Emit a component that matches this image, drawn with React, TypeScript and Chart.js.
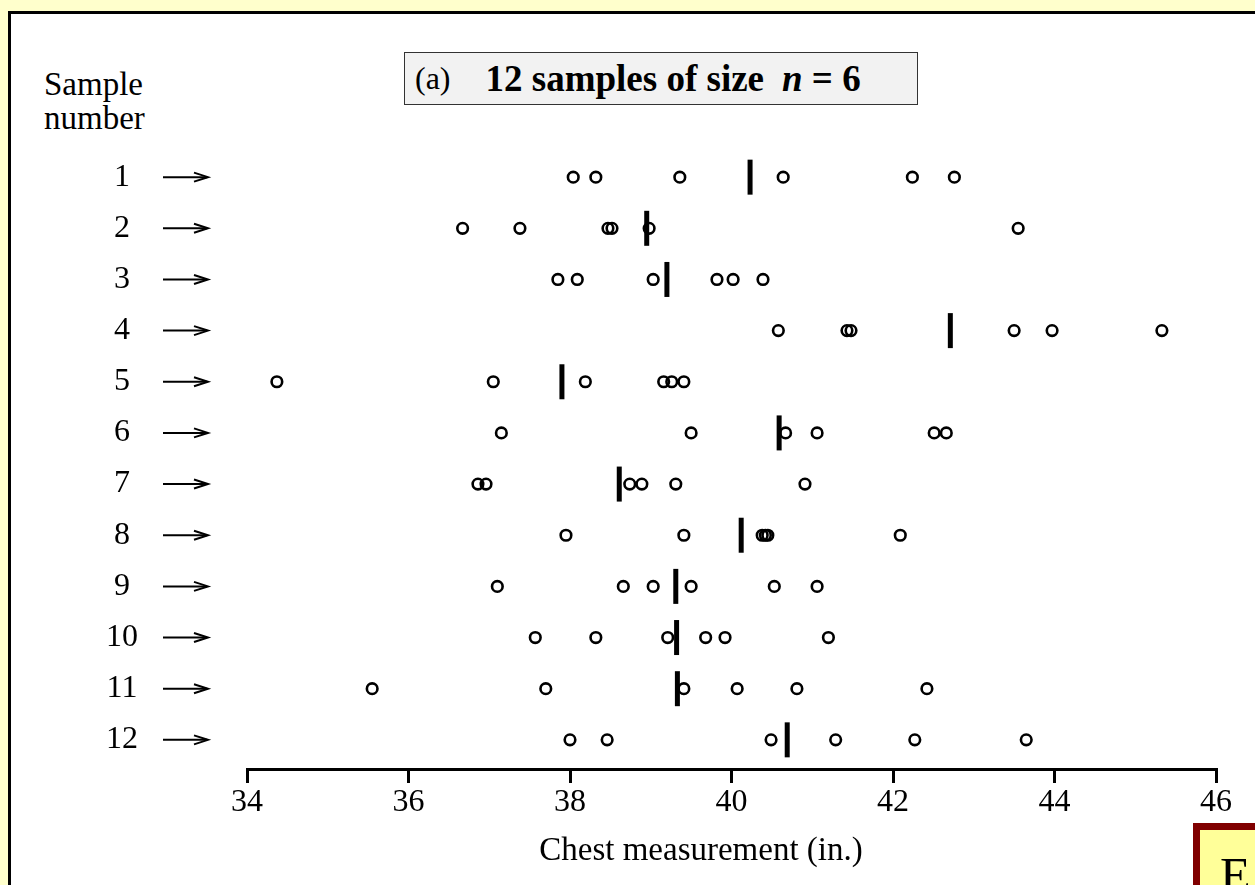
import React, { useEffect, useRef } from "react";
import { Chart, registerables } from "chart.js";

Chart.register(...registerables);

// ---------- data ----------
const sampleNumbers = [1, 2, 3, 4, 5, 6, 7, 8, 9, 10, 11, 12];

const sample01 = [38.04, 38.32, 39.36, 40.64, 42.24, 42.76];
const sample02 = [36.67, 37.38, 38.47, 38.52, 38.98, 43.55];
const sample03 = [37.85, 38.09, 39.03, 39.82, 40.02, 40.39];
const sample04 = [40.58, 41.43, 41.48, 43.5, 43.97, 45.33];
const sample05 = [34.37, 37.05, 38.19, 39.16, 39.26, 39.41];
const sample06 = [37.15, 39.5, 40.67, 41.06, 42.51, 42.66];
const sample07 = [36.86, 36.96, 38.74, 38.89, 39.31, 40.91];
const sample08 = [37.95, 39.41, 40.38, 40.42, 40.45, 42.09];
const sample09 = [37.1, 38.66, 39.03, 39.5, 40.53, 41.06];
const sample10 = [37.57, 38.32, 39.21, 39.68, 39.92, 41.2];
const sample11 = [35.55, 37.7, 39.41, 40.07, 40.81, 42.42];
const sample12 = [38.0, 38.46, 40.49, 41.29, 42.27, 43.65];

const samples = [
  sample01, sample02, sample03, sample04, sample05, sample06,
  sample07, sample08, sample09, sample10, sample11, sample12,
];

const sampleMeans = [40.23, 38.95, 39.2, 42.71, 37.9, 40.59, 38.61, 40.12, 39.31, 39.32, 39.33, 40.69];

const xTickValues = [34, 36, 38, 40, 42, 44, 46];
const xMin = 34;
const xMax = 46;

const titlePrefix = "(a)";
const titleMain = "12 samples of size";
const titleVar = "n";
const titleTail = " = 6";
const yAxisTitle = ["Sample", "number"];
const xAxisTitle = "Chest measurement (in.)";

const SERIF = '"Liberation Serif", "Times New Roman", Times, serif';

const arrowPlugin = {
  id: "rowArrows",
  afterDraw(chart: any) {
    const ys = chart.scales.y;
    const ctx = chart.ctx;
    ctx.save();
    ctx.strokeStyle = "#000";
    ctx.lineWidth = 2;
    ctx.lineCap = "butt";
    sampleNumbers.forEach((n) => {
      const py = ys.getPixelForValue(n);
      ctx.beginPath();
      ctx.moveTo(163, py);
      ctx.lineTo(207, py);
      ctx.stroke();
      ctx.beginPath();
      ctx.moveTo(194, py - 4.5);
      ctx.lineTo(208, py);
      ctx.lineTo(194, py + 4.5);
      ctx.stroke();
    });
    ctx.restore();
  },
};

export default function App() {
  const canvasRef = useRef<HTMLCanvasElement | null>(null);

  useEffect(() => {
    if (!canvasRef.current) return;
    const chart = new Chart(canvasRef.current, {
      type: "scatter",
      data: {
        datasets: [
          {
            label: "Sample mean",
            data: sampleNumbers.map((n, i) => ({ x: sampleMeans[i], y: n })),
            pointStyle: "line",
            pointRotation: 90,
            pointRadius: 17.5,
            pointHoverRadius: 17.5,
            pointBorderWidth: 5,
            pointBorderColor: "#000",
            pointBackgroundColor: "#000",
            borderColor: "#000",
          } as any,
          {
            label: "Chest measurement",
            data: samples.flatMap((s, i) => s.map((v) => ({ x: v, y: sampleNumbers[i] }))),
            pointStyle: "circle",
            pointRadius: 5.3,
            pointHoverRadius: 5.3,
            pointBorderWidth: 2.6,
            pointBorderColor: "#000",
            pointBackgroundColor: "rgba(0,0,0,0)",
            borderColor: "#000",
          } as any,
        ],
      },
      options: {
        responsive: false,
        animation: false,
        devicePixelRatio: 1,
        events: [],
        layout: { padding: { top: 126, right: 39, bottom: 0, left: 0 } },
        plugins: { legend: { display: false }, tooltip: { enabled: false }, title: { display: false } },
        scales: {
          x: {
            type: "linear",
            position: "bottom",
            min: xMin,
            max: xMax,
            afterBuildTicks: (s: any) => {
              s.ticks = xTickValues.map((v) => ({ value: v }));
            },
            afterFit: (s: any) => {
              s.height = 116;
            },
            border: { display: true, color: "#000", width: 3 },
            grid: {
              display: true,
              drawOnChartArea: false,
              drawTicks: true,
              tickLength: 14,
              tickWidth: 3,
              tickColor: "#000",
              color: "#000",
              lineWidth: 3,
            },
            ticks: {
              color: "#000",
              font: { family: SERIF, size: 32 },
              padding: 0,
              maxRotation: 0,
              autoSkip: false,
            },
          },
          y: {
            type: "linear",
            position: "left",
            reverse: true,
            min: 0,
            max: 12.57,
            afterBuildTicks: (s: any) => {
              s.ticks = sampleNumbers.map((v) => ({ value: v }));
            },
            afterFit: (s: any) => {
              s.width = 247;
            },
            border: { display: false },
            grid: {
              display: true,
              drawOnChartArea: false,
              drawTicks: true,
              tickLength: 109,
              tickColor: "rgba(0,0,0,0)",
              color: "rgba(0,0,0,0)",
            },
            ticks: {
              color: "#000",
              font: { family: SERIF, size: 32 },
              padding: 0,
              crossAlign: "center",
              autoSkip: false,
            },
          },
        },
      } as any,
      plugins: [arrowPlugin],
    });
    return () => chart.destroy();
  }, []);

  return (
    <div
      style={{
        position: "fixed",
        left: 0,
        top: 0,
        width: 1255,
        height: 885,
        overflow: "hidden",
        background: "#FFFFCC",
        fontFamily: SERIF,
        color: "#000",
      }}
    >
      <div
        style={{
          position: "absolute",
          left: 8,
          top: 11,
          width: 1400,
          height: 1000,
          background: "#FFFFFF",
          border: "3px solid #000",
        }}
      />
      <div
        style={{
          position: "absolute",
          left: 404,
          top: 52,
          width: 514,
          height: 53,
          boxSizing: "border-box",
          border: "1.5px solid #333",
          background: "#F2F2F2",
          fontSize: 32,
          display: "flex",
          alignItems: "center",
          paddingLeft: 10,
          whiteSpace: "pre",
        }}
      >
        <span>{titlePrefix}</span>
        <span style={{ fontWeight: "bold", fontSize: 37, marginLeft: 35 }}>{titleMain}</span>
        <span style={{ fontWeight: "bold", fontStyle: "italic", fontSize: 37, marginLeft: 18 }}>{titleVar}</span>
        <span style={{ fontWeight: "bold", fontSize: 37 }}>{titleTail}</span>
      </div>
      <div
        style={{
          position: "absolute",
          left: 44,
          top: 67,
          fontSize: 33,
          lineHeight: "34px",
          whiteSpace: "pre",
        }}
      >
        {yAxisTitle[0]}
        <br />
        {yAxisTitle[1]}
      </div>
      <canvas
        ref={canvasRef}
        width={1255}
        height={885}
        style={{ position: "absolute", left: 0, top: 0, width: 1255, height: 885 }}
      />
      <div
        style={{
          position: "absolute",
          left: 451,
          width: 500,
          top: 830,
          textAlign: "center",
          fontSize: 33,
          lineHeight: "38px",
          whiteSpace: "pre",
        }}
      >
        {xAxisTitle}
      </div>
      <div
        style={{
          position: "absolute",
          left: 1193,
          top: 823,
          width: 200,
          height: 200,
          boxSizing: "border-box",
          border: "7px solid #800000",
          background: "#FFFF99",
          fontSize: 50,
          lineHeight: "normal",
          paddingLeft: 20,
          paddingTop: 16,
        }}
      >
        E
      </div>
    </div>
  );
}
